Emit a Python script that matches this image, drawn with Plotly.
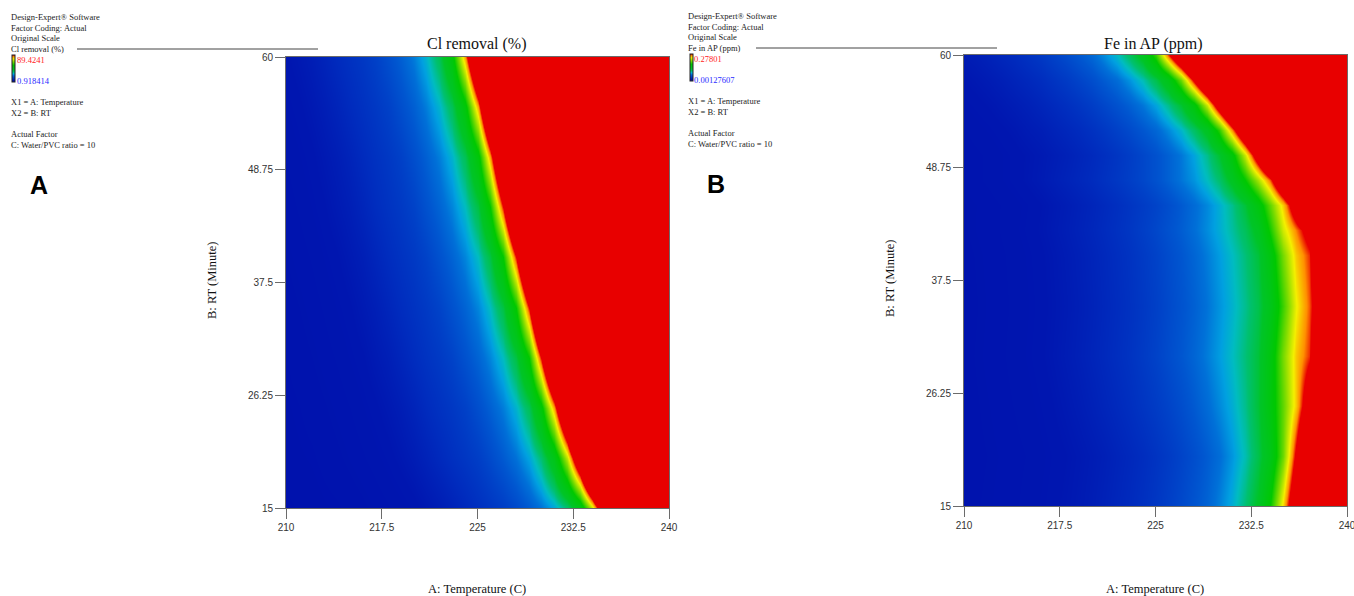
import plotly.graph_objects as go

# ---------------- data ----------------
temperature = [210, 211, 212, 213, 214, 215, 216, 217, 218, 219, 220, 221, 222, 223, 224, 225,
               226, 227, 228, 229, 230, 231, 232, 233, 234, 235, 236, 237, 238, 239, 240]
rt_cl = [15, 20, 25, 30, 35, 40, 45, 50, 55, 60]
rt_fe = [15, 20, 25, 30, 35, 40, 42.5, 45, 47.5, 50, 52.5, 55, 57.5, 60]

x_ticks = [210, 217.5, 225, 232.5, 240]
x_ticktext = ["210", "217.5", "225", "232.5", "240"]
y_ticks = [15, 26.25, 37.5, 48.75, 60]
y_ticktext = ["15", "26.25", "37.5", "48.75", "60"]

cl_min, cl_max = 0.918414, 89.4241
fe_min, fe_max = 0.00127607, 0.27801

# Cl removal (%) - rows follow rt_cl, columns follow temperature
cl_removal = [
    [2.1, 2.3, 2.5, 2.8, 3.0, 3.4, 3.8, 4.3, 4.8, 5.3, 5.9, 6.7, 7.6, 8.7, 10.0, 11.4, 12.7, 14.2, 16.4, 19.1, 22.2, 26.6, 33.7, 47.0, 72.6, 111.7, 165, 231, 266, 266, 266],
    [2.5, 2.8, 3.0, 3.4, 3.8, 4.3, 4.8, 5.3, 5.9, 6.7, 7.6, 8.7, 10.0, 11.4, 12.7, 14.2, 16.4, 19.1, 22.2, 26.6, 33.7, 47.0, 72.6, 111.7, 165, 231, 266, 266, 266, 266, 266],
    [2.8, 3.1, 3.5, 3.9, 4.4, 4.9, 5.5, 6.1, 6.9, 7.8, 9.0, 10.4, 11.7, 13.0, 14.7, 17.2, 19.9, 23.2, 28.1, 36.3, 52.3, 82.7, 125.1, 183.6, 252, 266, 266, 266, 266, 266, 266],
    [3.1, 3.6, 4.0, 4.5, 5.0, 5.6, 6.2, 7.1, 8.0, 9.3, 10.7, 12.0, 13.3, 15.1, 17.7, 20.4, 23.9, 29.2, 38.1, 55.8, 89.4, 134, 196, 266, 266, 266, 266, 266, 266, 266, 266],
    [3.6, 4.0, 4.5, 5.0, 5.6, 6.2, 7.1, 8.0, 9.3, 10.7, 12.0, 13.3, 15.1, 17.7, 20.4, 23.9, 29.2, 38.1, 55.8, 89.4, 134, 196, 266, 266, 266, 266, 266, 266, 266, 266, 266],
    [4.0, 4.5, 5.0, 5.6, 6.2, 7.1, 8.0, 9.3, 10.7, 12.0, 13.3, 15.1, 17.7, 20.4, 23.9, 29.2, 38.1, 55.8, 89.4, 134, 196, 266, 266, 266, 266, 266, 266, 266, 266, 266, 266],
    [4.5, 5.0, 5.6, 6.2, 7.1, 8.0, 9.3, 10.7, 12.0, 13.3, 15.1, 17.7, 20.4, 23.9, 29.2, 38.1, 55.8, 89.4, 134, 196, 266, 266, 266, 266, 266, 266, 266, 266, 266, 266, 266],
    [4.9, 5.5, 6.1, 6.9, 7.8, 9.0, 10.4, 11.7, 13.0, 14.7, 17.2, 19.9, 23.2, 28.1, 36.3, 52.3, 82.7, 125.1, 183.6, 252, 266, 266, 266, 266, 266, 266, 266, 266, 266, 266, 266],
    [5.5, 6.1, 6.9, 7.8, 9.0, 10.4, 11.7, 13.0, 14.7, 17.2, 19.9, 23.2, 28.1, 36.3, 52.3, 82.7, 125.1, 183.6, 252, 266, 266, 266, 266, 266, 266, 266, 266, 266, 266, 266, 266],
    [6.1, 6.9, 7.8, 9.0, 10.4, 11.7, 13.0, 14.7, 17.2, 19.9, 23.2, 28.1, 36.3, 52.3, 82.7, 125.1, 183.6, 252, 266, 266, 266, 266, 266, 266, 266, 266, 266, 266, 266, 266, 266],
]

# Fe in AP (ppm) - rows follow rt_fe, columns follow temperature
fe_in_ap = [
    [0.0102, 0.0108, 0.0115, 0.0125, 0.0134, 0.0146, 0.0160, 0.0174, 0.0189, 0.0207, 0.0227, 0.0251, 0.0279, 0.0306, 0.0342, 0.0384, 0.0434, 0.0489, 0.0553, 0.0622, 0.0716, 0.0843, 0.1031, 0.1286, 0.1729, 0.2448, 0.3278, 0.4108, 0.4938, 0.527, 0.527],
    [0.0099, 0.0105, 0.0111, 0.0119, 0.0130, 0.0139, 0.0153, 0.0167, 0.0181, 0.0198, 0.0217, 0.0237, 0.0265, 0.0292, 0.0322, 0.0363, 0.0406, 0.0461, 0.0518, 0.0587, 0.0660, 0.0774, 0.0921, 0.1148, 0.1452, 0.2033, 0.2863, 0.3693, 0.4523, 0.527, 0.527],
    [0.0099, 0.0108, 0.0117, 0.0128, 0.0139, 0.0151, 0.0165, 0.0181, 0.0201, 0.0222, 0.0247, 0.0273, 0.0301, 0.0333, 0.0372, 0.0414, 0.0461, 0.0514, 0.0580, 0.0655, 0.0738, 0.0843, 0.0987, 0.1206, 0.1563, 0.1999, 0.2481, 0.3112, 0.3942, 0.4772, 0.527],
    [0.0102, 0.0112, 0.0123, 0.0134, 0.0147, 0.0161, 0.0177, 0.0195, 0.0217, 0.0241, 0.0268, 0.0295, 0.0327, 0.0362, 0.0406, 0.0455, 0.0508, 0.0564, 0.0629, 0.0708, 0.0791, 0.0893, 0.1023, 0.1200, 0.1549, 0.2061, 0.2488, 0.2726, 0.3361, 0.4191, 0.5021],
    [0.0099, 0.0109, 0.0120, 0.0131, 0.0143, 0.0157, 0.0172, 0.0190, 0.0210, 0.0233, 0.0259, 0.0287, 0.0317, 0.0351, 0.0392, 0.0440, 0.0492, 0.0547, 0.0608, 0.0683, 0.0766, 0.0860, 0.0982, 0.1142, 0.1424, 0.1895, 0.2376, 0.2672, 0.3112, 0.3942, 0.4772],
    [0.0102, 0.0112, 0.0123, 0.0134, 0.0147, 0.0161, 0.0177, 0.0195, 0.0217, 0.0241, 0.0268, 0.0295, 0.0327, 0.0362, 0.0406, 0.0455, 0.0508, 0.0564, 0.0629, 0.0708, 0.0791, 0.0893, 0.1023, 0.1200, 0.1549, 0.2061, 0.2488, 0.2726, 0.3361, 0.4191, 0.5021],
    [0.0107, 0.0118, 0.0129, 0.0140, 0.0154, 0.0169, 0.0186, 0.0206, 0.0228, 0.0254, 0.0281, 0.0310, 0.0344, 0.0382, 0.0430, 0.0481, 0.0536, 0.0594, 0.0666, 0.0749, 0.0838, 0.0954, 0.1103, 0.1341, 0.1784, 0.2301, 0.2636, 0.2946, 0.3776, 0.4606, 0.527],
    [0.0108, 0.0117, 0.0128, 0.0139, 0.0151, 0.0165, 0.0181, 0.0201, 0.0222, 0.0247, 0.0273, 0.0301, 0.0333, 0.0372, 0.0414, 0.0461, 0.0514, 0.0580, 0.0655, 0.0738, 0.0843, 0.0987, 0.1206, 0.1563, 0.1999, 0.2481, 0.3112, 0.3942, 0.4772, 0.527, 0.527],
    [0.0121, 0.0133, 0.0144, 0.0157, 0.0171, 0.0189, 0.0208, 0.0232, 0.0257, 0.0284, 0.0312, 0.0348, 0.0387, 0.0432, 0.0480, 0.0540, 0.0608, 0.0688, 0.0771, 0.0898, 0.1048, 0.1333, 0.1729, 0.2188, 0.2680, 0.3444, 0.4274, 0.5104, 0.527, 0.527, 0.527],
    [0.0123, 0.0133, 0.0143, 0.0157, 0.0171, 0.0186, 0.0203, 0.0223, 0.0245, 0.0273, 0.0301, 0.0334, 0.0375, 0.0423, 0.0478, 0.0539, 0.0608, 0.0694, 0.0815, 0.0987, 0.1231, 0.1618, 0.2282, 0.3112, 0.3942, 0.4772, 0.527, 0.527, 0.527, 0.527, 0.527],
    [0.0136, 0.0149, 0.0162, 0.0176, 0.0192, 0.0213, 0.0230, 0.0257, 0.0284, 0.0312, 0.0351, 0.0392, 0.0445, 0.0500, 0.0566, 0.0636, 0.0738, 0.0871, 0.1076, 0.1341, 0.1839, 0.2614, 0.3444, 0.4274, 0.5104, 0.527, 0.527, 0.527, 0.527, 0.527, 0.527],
    [0.0157, 0.0171, 0.0186, 0.0203, 0.0223, 0.0245, 0.0273, 0.0301, 0.0334, 0.0375, 0.0423, 0.0478, 0.0539, 0.0608, 0.0694, 0.0815, 0.0987, 0.1231, 0.1618, 0.2282, 0.3112, 0.3942, 0.4772, 0.527, 0.527, 0.527, 0.527, 0.527, 0.527, 0.527, 0.527],
    [0.0181, 0.0198, 0.0217, 0.0237, 0.0265, 0.0292, 0.0322, 0.0363, 0.0406, 0.0461, 0.0518, 0.0587, 0.0660, 0.0774, 0.0921, 0.1148, 0.1452, 0.2033, 0.2863, 0.3693, 0.4523, 0.527, 0.527, 0.527, 0.527, 0.527, 0.527, 0.527, 0.527, 0.527, 0.527],
    [0.0213, 0.0233, 0.0259, 0.0287, 0.0315, 0.0355, 0.0396, 0.0450, 0.0506, 0.0573, 0.0643, 0.0749, 0.0885, 0.1098, 0.1369, 0.1895, 0.2697, 0.3527, 0.4357, 0.5187, 0.527, 0.527, 0.527, 0.527, 0.527, 0.527, 0.527, 0.527, 0.527, 0.527, 0.527],
]

# ---------------- style ----------------
W, H = 1354, 596
SERIF = "Liberation Serif, Times New Roman, serif"
SANS = "Liberation Sans, Arial, sans-serif"

design_expert_scale = [
    [0.00, "#0010ac"],
    [0.06, "#0016b0"],
    [0.11, "#002cbe"],
    [0.16, "#0042c8"],
    [0.20, "#0056d0"],
    [0.24, "#0070d8"],
    [0.285, "#00a0e0"],
    [0.32, "#00bcc0"],
    [0.37, "#00c070"],
    [0.45, "#00c428"],
    [0.62, "#00c800"],
    [0.75, "#80dc00"],
    [0.86, "#f4f000"],
    [0.94, "#ff9000"],
    [1.00, "#e80000"],
]


def px_x(p):
    return p / W


def px_y(p):
    return 1 - p / H


def colorbar_at(left_px, top_px):
    return dict(
        xref="container", yref="container",
        x=px_x(left_px), xanchor="left", y=px_y(top_px), yanchor="top",
        thickness=3, thicknessmode="pixels", len=27, lenmode="pixels",
        xpad=0, ypad=0, outlinewidth=1, outlinecolor="#222",
        showticklabels=False, ticks="", borderwidth=0,
    )


fig = go.Figure()
fig.add_trace(go.Heatmap(
    x=temperature, y=rt_cl, z=cl_removal, zmin=cl_min, zmax=cl_max,
    colorscale=design_expert_scale, zsmooth="best",
    colorbar=colorbar_at(12, 55), xaxis="x", yaxis="y", hoverinfo="skip",
))
fig.add_trace(go.Heatmap(
    x=temperature, y=rt_fe, z=fe_in_ap, zmin=fe_min, zmax=fe_max,
    colorscale=design_expert_scale, zsmooth="best",
    colorbar=colorbar_at(690, 54), xaxis="x2", yaxis="y2", hoverinfo="skip",
))

axis_common = dict(
    showgrid=False, zeroline=False, showline=True, mirror=True,
    linecolor="#6b6b6b", linewidth=1, ticks="outside", ticklen=10,
    tickcolor="#6b6b6b", tickwidth=1, automargin=False,
    ticklabeloverflow="allow",
    tickfont=dict(family=SANS, size=10, color="#333"),
)

fig.update_layout(
    width=W, height=H, autosize=False,
    margin=dict(l=0, r=0, t=0, b=0, autoexpand=False),
    paper_bgcolor="white", plot_bgcolor="white",
    showlegend=False,
    xaxis=dict(domain=[px_x(286), px_x(669)], range=[210, 240], anchor="y",
               tickvals=x_ticks, ticktext=x_ticktext, **axis_common),
    yaxis=dict(domain=[px_y(508), px_y(57)], range=[15, 60], anchor="x",
               tickvals=y_ticks, ticktext=y_ticktext, **axis_common),
    xaxis2=dict(domain=[px_x(964), px_x(1347)], range=[210, 240], anchor="y2",
                tickvals=x_ticks, ticktext=x_ticktext, **axis_common),
    yaxis2=dict(domain=[px_y(506), px_y(55)], range=[15, 60], anchor="x2",
                tickvals=y_ticks, ticktext=y_ticktext, **axis_common),
)

annotations = []


def text(px, py, s, size=8.5, color="#222", family=SERIF, xanchor="left", angle=0, bold=False):
    if bold:
        s = "<b>" + s + "</b>"
    annotations.append(dict(
        x=px_x(px), y=px_y(py), xref="paper", yref="paper", text=s,
        showarrow=False, xanchor=xanchor, yanchor="middle", textangle=angle,
        borderpad=0, font=dict(family=family, size=size, color=color),
    ))


def info_block(x0, y0, response, hi, lo, letter):
    text(x0, y0, "Design-Expert® Software")
    text(x0, y0 + 10.7, "Factor Coding: Actual")
    text(x0, y0 + 21.4, "Original Scale")
    text(x0, y0 + 32.1, response)
    text(x0 + 6, y0 + 43, hi, color="#ff2222")
    text(x0 + 6, y0 + 64, lo, color="#2a2aff")
    text(x0, y0 + 85, "X1 = A: Temperature")
    text(x0, y0 + 96, "X2 = B: RT")
    text(x0, y0 + 117, "Actual Factor")
    text(x0, y0 + 128, "C: Water/PVC ratio = 10")
    text(x0 + 29, y0 + 168, letter, size=25, color="#000", family=SANS, xanchor="center", bold=True)


info_block(10, 17, "Cl removal (%)", "89.4241", "0.918414", "A")
info_block(687, 16, "Fe in AP (ppm)", "0.27801", "0.00127607", "B")

# titles and axis titles
text(477, 44, "Cl removal (%)", size=16, color="#111", xanchor="center")
text(1153, 44, "Fe in AP (ppm)", size=16, color="#111", xanchor="center")
text(477, 589, "A: Temperature (C)", size=12.5, color="#111", xanchor="center")
text(1155, 589, "A: Temperature (C)", size=12.5, color="#111", xanchor="center")
text(212, 280, "B: RT (Minute)", size=12.5, color="#111", xanchor="center", angle=-90)
text(890, 278, "B: RT (Minute)", size=12.5, color="#111", xanchor="center", angle=-90)

fig.update_layout(
    annotations=annotations,
    shapes=[
        dict(type="line", xref="paper", yref="paper", x0=px_x(77), x1=px_x(318),
             y0=px_y(49), y1=px_y(49), line=dict(color="#444", width=1)),
        dict(type="line", xref="paper", yref="paper", x0=px_x(756), x1=px_x(997),
             y0=px_y(48), y1=px_y(48), line=dict(color="#444", width=1)),
    ],
)

fig.write_html("out.html")
